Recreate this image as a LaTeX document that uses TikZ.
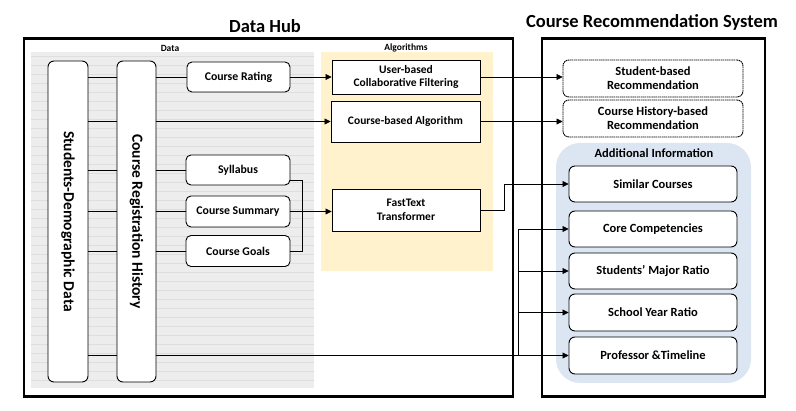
\documentclass[tikz,border=0pt]{standalone}
\usepackage{fontspec}
\setmainfont{Carlito}
\usepackage{graphicx}
\usetikzlibrary{arrows.meta,calc}
\definecolor{hubgray}{HTML}{EDEDED}
\definecolor{stripe}{HTML}{DEDEDE}
\definecolor{algoyellow}{HTML}{FFF2CC}
\definecolor{infoblue}{HTML}{DCE6F2}
\begin{document}
\begin{tikzpicture}[x=1pt,y=-1pt,
  every node/.style={font=\bfseries},
  lbox/.style={draw, rounded corners=5pt, line width=0.9pt, fill=white, align=center, inner sep=1pt, font=\bfseries\fontsize{11.8}{13}\selectfont},
  abox/.style={draw, line width=0.9pt, fill=white, align=center, inner sep=1pt, font=\bfseries\fontsize{11.5}{13.5}\selectfont},
  rbox/.style={draw, rounded corners=6pt, line width=0.9pt, fill=white, align=center, inner sep=1pt, minimum width=168pt, minimum height=36pt, font=\bfseries\fontsize{12.5}{14}\selectfont},
  recbox/.style={draw, dash pattern=on 1.5pt off 0.6pt, rounded corners=6pt, line width=0.9pt, fill=white, align=center, inner sep=1pt, minimum width=180pt, minimum height=37pt, font=\bfseries\fontsize{12.5}{14}\selectfont},
  tallbox/.style={draw, rounded corners=6pt, line width=0.9pt, fill=white, minimum height=321pt, inner sep=0pt, font=\bfseries\fontsize{15.5}{17}\selectfont},
  frame/.style={draw, line width=2.6pt},
  conn/.style={line width=0.7pt},
  arr/.style={conn, -{Triangle[length=6pt,width=6pt]}},
  title/.style={font=\bfseries\fontsize{18.5}{20}\selectfont},
  small/.style={font=\bfseries\fontsize{9.5}{11}\selectfont},
  ]
\useasboundingbox (0,0) rectangle (796,411);

% backgrounds
\fill[hubgray] (31,52) rectangle (314,388);
\foreach \yy in {56,65,...,388} \draw[stripe, line width=0.5pt] (31,\yy) -- (314,\yy);
\fill[algoyellow] (321,52) rectangle (493,271);
\node[fill=infoblue, rounded corners=24pt, minimum width=195pt, minimum height=240pt, inner sep=0pt] (addinfo) at (653.5,263) {};

% frames
\node[frame, minimum width=489pt, minimum height=358pt, inner sep=0pt] (hub) at (268.5,217.5) {};
\node[frame, minimum width=223pt, minimum height=358pt, inner sep=0pt] (crs) at (653.5,217.5) {};

% titles and labels
\node[title] (thub) at (265,26) {Data Hub};
\node[title] (tcrs) at (652,22) {Course Recommendation System};
\node[small] (tdata) at (170,48) {Data};
\node[small] (talgo) at (406,48) {Algorithms};
\node[font=\bfseries\fontsize{12.5}{14}\selectfont] (tinfo) at (654,153) {Additional Information};

% data nodes
\node[tallbox, minimum width=40pt] (sdd) at (68,221.5) {\rotatebox{-90}{Students-Demographic Data}};
\node[tallbox, minimum width=39pt] (crh) at (136.5,221.5) {\rotatebox{-90}{Course Registration History}};
\node[lbox, minimum width=103pt, minimum height=30pt] (cr) at (238.5,77) {Course Rating};
\node[lbox, minimum width=104pt, minimum height=30pt] (syl) at (238,170) {Syllabus};
\node[lbox, minimum width=104pt, minimum height=31pt] (cs) at (238,211.5) {Course Summary};
\node[lbox, minimum width=104pt, minimum height=31pt] (cg) at (238,251) {Course Goals};

% algorithm nodes
\node[abox, minimum width=148pt, minimum height=34pt] (ucf) at (406,77) {User-based\\Collaborative Filtering};
\node[abox, minimum width=149pt, minimum height=41pt] (cba) at (405.5,121.5) {Course-based Algorithm};
\node[abox, minimum width=148pt, minimum height=42pt] (ft) at (406,210) {FastText\\Transformer};

% recommendation nodes
\node[recbox] (sbr) at (653,78.5) {Student-based\\Recommendation};
\node[recbox] (chr) at (653,118.5) {Course History-based\\Recommendation};
\node[rbox] (sim) at (653,184) {Similar Courses};
\node[rbox] (cc) at (653,229) {Core Competencies};
\node[rbox] (smr) at (653,271) {Students’ Major Ratio};
\node[rbox, minimum height=37pt] (syr) at (653,312.5) {School Year Ratio};
\node[rbox, minimum height=37pt] (pt) at (653,355.5) {Professor \&Timeline};

% connectors
\draw[conn] (sdd.east |- cr.west) -- (crh.west |- cr.west);
\draw[conn] (crh.east |- cr.west) -- (cr.west);
\draw[arr] (cr.east) -- (ucf.west);
\draw[arr] (ucf.east) -- (ucf.east -| sbr.west);

\draw[conn] (sdd.east |- cba.west) -- (crh.west |- cba.west);
\draw[arr] (crh.east |- cba.west) -- (cba.west);
\draw[arr] (cba.east) -- (cba.east -| chr.west);

\draw[conn] (sdd.east |- syl.west) -- (crh.west |- syl.west);
\draw[conn] (crh.east |- syl.west) -- (syl.west);
\draw[conn] (sdd.east |- cs.west) -- (crh.west |- cs.west);
\draw[conn] (crh.east |- cs.west) -- (cs.west);
\draw[conn] (sdd.east |- cg.west) -- (crh.west |- cg.west);
\draw[conn] (crh.east |- cg.west) -- (cg.west);

\draw[conn] ($(syl.east)+(0,10)$) -- ++(12,0) |- (cg.east);
\draw[arr] (cs.east) -- (cs.east -| ft.west);

\draw[arr] (ft.east) -- ++(24,0) |- (sim.west);

\coordinate (j2) at (518,0);
\draw[conn] (sdd.east |- pt.west) -- (crh.west |- pt.west);
\draw[arr] (crh.east |- pt.west) -- (pt.west);
\draw[conn] (j2 |- pt.west) -- (j2 |- cc.west);
\draw[arr] (j2 |- cc.west) -- (cc.west);
\draw[arr] (j2 |- smr.west) -- (smr.west);
\draw[arr] (j2 |- syr.west) -- (syr.west);
\end{tikzpicture}
\end{document}
